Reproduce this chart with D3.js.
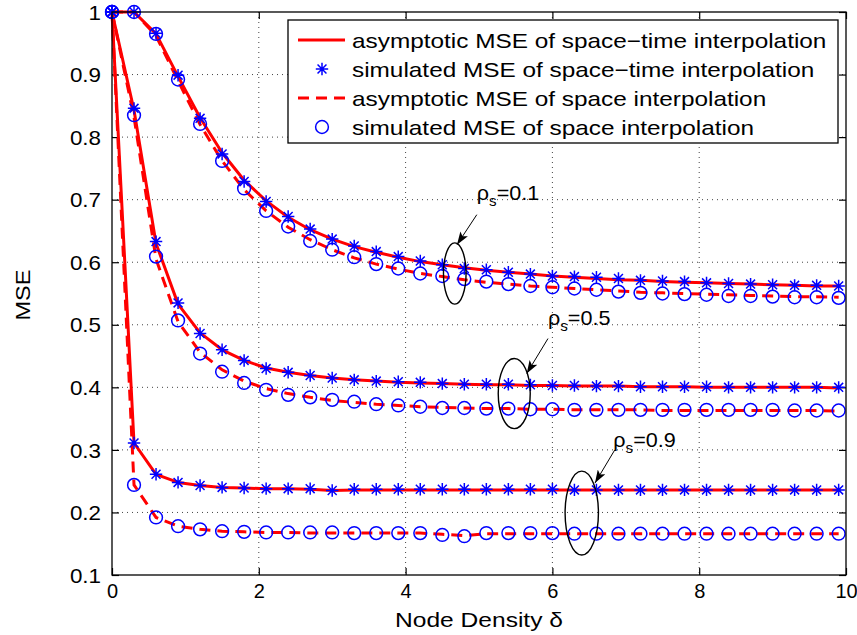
<!DOCTYPE html>
<html>
<head>
<meta charset="utf-8">
<script src="https://cdn.jsdelivr.net/npm/d3@7/dist/d3.min.js"></script>
<style>
  body { margin: 0; background: #fff; }
  text { font-family: "Liberation Sans", Arial, Helvetica, sans-serif; fill: #000; }
</style>
</head>
<body>
<svg id="chart" width="857" height="635"></svg>
<script>
// Node density grid shared by every series
const density = [0, 0.3, 0.6, 0.9, 1.2, 1.5, 1.8, 2.1, 2.4, 2.7, 3.0, 3.3, 3.6, 3.9, 4.2, 4.5, 4.8,
  5.1, 5.4, 5.7, 6.0, 6.3, 6.6, 6.9, 7.2, 7.5, 7.8, 8.1, 8.4, 8.7, 9.0, 9.3, 9.6, 9.9];

// rho_s = 0.1
const asymSpaceTime01 = [1.000, 1.000, 0.965, 0.897, 0.831, 0.775, 0.731, 0.698, 0.672, 0.652, 0.637, 0.625,
  0.616, 0.608, 0.601, 0.596, 0.591, 0.587, 0.584, 0.581, 0.578, 0.576, 0.574, 0.572, 0.571, 0.569, 0.568,
  0.567, 0.566, 0.565, 0.564, 0.563, 0.562, 0.562];
const simSpaceTime01 = [1.000, 1.000, 0.966, 0.899, 0.830, 0.773, 0.729, 0.697, 0.673, 0.653, 0.637, 0.626,
  0.617, 0.609, 0.602, 0.596, 0.590, 0.588, 0.584, 0.581, 0.578, 0.577, 0.576, 0.574, 0.571, 0.570, 0.569,
  0.567, 0.566, 0.565, 0.564, 0.563, 0.563, 0.562];
const asymSpace01 = [1.000, 1.000, 0.962, 0.890, 0.820, 0.762, 0.716, 0.682, 0.656, 0.636, 0.620, 0.607,
  0.597, 0.589, 0.582, 0.577, 0.572, 0.568, 0.565, 0.562, 0.560, 0.558, 0.556, 0.554, 0.552, 0.551, 0.550,
  0.549, 0.548, 0.547, 0.546, 0.545, 0.545, 0.544];
const simSpace01 = [1.000, 1.000, 0.965, 0.892, 0.821, 0.762, 0.718, 0.682, 0.657, 0.634, 0.620, 0.608,
  0.597, 0.590, 0.582, 0.578, 0.573, 0.569, 0.565, 0.562, 0.560, 0.558, 0.556, 0.553, 0.551, 0.550, 0.549,
  0.548, 0.546, 0.546, 0.545, 0.544, 0.544, 0.543];

// rho_s = 0.5
const asymSpaceTime05 = [1.000, 0.843, 0.630, 0.533, 0.487, 0.460, 0.443, 0.431, 0.424, 0.419, 0.415, 0.412,
  0.410, 0.408, 0.407, 0.406, 0.405, 0.404, 0.404, 0.403, 0.403, 0.402, 0.402, 0.402, 0.401, 0.401, 0.401,
  0.400, 0.400, 0.400, 0.400, 0.400, 0.400, 0.399];
const simSpaceTime05 = [1.000, 0.846, 0.633, 0.535, 0.486, 0.460, 0.443, 0.430, 0.424, 0.419, 0.415, 0.412,
  0.410, 0.409, 0.408, 0.406, 0.405, 0.405, 0.405, 0.404, 0.403, 0.403, 0.402, 0.402, 0.401, 0.401, 0.401,
  0.401, 0.400, 0.400, 0.400, 0.400, 0.400, 0.400];
const asymSpace05 = [1.000, 0.832, 0.605, 0.505, 0.456, 0.428, 0.410, 0.398, 0.390, 0.384, 0.379, 0.376,
  0.373, 0.371, 0.369, 0.368, 0.367, 0.366, 0.366, 0.365, 0.365, 0.364, 0.364, 0.364, 0.364, 0.363, 0.363,
  0.363, 0.363, 0.363, 0.363, 0.363, 0.363, 0.362];
const simSpace05 = [1.000, 0.835, 0.609, 0.507, 0.454, 0.425, 0.407, 0.396, 0.388, 0.384, 0.380, 0.377,
  0.373, 0.371, 0.369, 0.367, 0.367, 0.366, 0.366, 0.365, 0.365, 0.364, 0.364, 0.364, 0.364, 0.364, 0.364,
  0.364, 0.364, 0.364, 0.364, 0.363, 0.363, 0.363];

// rho_s = 0.9
const asymSpaceTime09 = [1.000, 0.311, 0.261, 0.248, 0.243, 0.240, 0.239, 0.238, 0.238, 0.237, 0.235, 0.236,
  0.236, 0.236, 0.236, 0.236, 0.236, 0.236, 0.236, 0.236, 0.236, 0.236, 0.236, 0.236, 0.236, 0.236, 0.236,
  0.236, 0.236, 0.236, 0.236, 0.236, 0.236, 0.236];
const simSpaceTime09 = [1.000, 0.311, 0.261, 0.248, 0.243, 0.240, 0.239, 0.238, 0.238, 0.238, 0.235, 0.237,
  0.237, 0.237, 0.237, 0.237, 0.237, 0.237, 0.237, 0.237, 0.237, 0.236, 0.236, 0.236, 0.236, 0.236, 0.236,
  0.236, 0.236, 0.236, 0.236, 0.236, 0.236, 0.236];
const asymSpace09 = [1.000, 0.244, 0.192, 0.178, 0.173, 0.170, 0.169, 0.168, 0.168, 0.167, 0.167, 0.167,
  0.167, 0.167, 0.167, 0.165, 0.163, 0.166, 0.166, 0.166, 0.166, 0.166, 0.166, 0.166, 0.166, 0.166, 0.166,
  0.166, 0.166, 0.166, 0.166, 0.166, 0.166, 0.166];
const simSpace09 = [1.000, 0.244, 0.192, 0.178, 0.173, 0.170, 0.169, 0.168, 0.168, 0.168, 0.168, 0.167,
  0.167, 0.167, 0.167, 0.164, 0.162, 0.167, 0.167, 0.167, 0.167, 0.166, 0.166, 0.166, 0.166, 0.166, 0.166,
  0.166, 0.166, 0.166, 0.166, 0.166, 0.166, 0.166];

// Axis ticks
const xTickValues = [0, 2, 4, 6, 8, 10];
const xTickLabels = ["0", "2", "4", "6", "8", "10"];
const yTickValues = [0.1, 0.2, 0.3, 0.4, 0.5, 0.6, 0.7, 0.8, 0.9, 1.0];
const yTickLabels = ["0.1", "0.2", "0.3", "0.4", "0.5", "0.6", "0.7", "0.8", "0.9", "1"];

// Legend entries
const legendLabels = [
  "asymptotic MSE of space\u2212time interpolation",
  "simulated MSE of space\u2212time interpolation",
  "asymptotic MSE of space interpolation",
  "simulated MSE of space interpolation"
];

// Correlation labels with their callout ellipse and arrow (data units)
const rhoLabels = ["0.1", "0.5", "0.9"];
const calloutText = [[4.97, 0.700], [5.94, 0.500], [6.83, 0.305]];
const calloutArrow = [[[4.97, 0.676], [4.70, 0.628]], [[5.94, 0.478], [5.65, 0.422]], [[6.85, 0.300], [6.58, 0.247]]];
const calloutEllipse = [[4.67, 0.582, 0.154, 0.049], [5.48, 0.390, 0.218, 0.056], [6.40, 0.199, 0.227, 0.067]];

const RED = "#ff0000", BLUE = "#0000ff";
const W = 857, H = 635;
const plot = { left: 112, right: 846, top: 12, bottom: 575 };

const svg = d3.select("#chart");
svg.append("rect").attr("width", W).attr("height", H).attr("fill", "#fff");

const x = d3.scaleLinear().domain([0, 10]).range([plot.left, plot.right]);
const y = d3.scaleLinear().domain([0.1, 1]).range([plot.bottom, plot.top]);

// Place a text at (px, py) with a horizontal stretch about its anchor
function placeText(sel, px, py, sx) {
  return sel.attr("x", 0).attr("y", 0).attr("transform", `translate(${px},${py}) scale(${sx},1)`);
}

const defs = svg.append("defs");
defs.append("clipPath").attr("id", "plotClip").append("rect")
  .attr("x", plot.left - 8).attr("y", plot.top - 8)
  .attr("width", plot.right - plot.left + 16).attr("height", plot.bottom - plot.top + 16);
defs.append("marker").attr("id", "arrowHead")
  .attr("viewBox", "0 0 13 9").attr("refX", 13).attr("refY", 4.5)
  .attr("markerWidth", 13).attr("markerHeight", 9).attr("markerUnits", "userSpaceOnUse")
  .attr("orient", "auto")
  .append("path").attr("d", "M0,0 L13,4.5 L0,9 L3,4.5 Z").attr("fill", "#000");

// Dotted grid
const grid = svg.append("g");
grid.selectAll(".gx").data(xTickValues.slice(1, -1)).join("line")
  .attr("x1", d => x(d)).attr("x2", d => x(d)).attr("y1", plot.top).attr("y2", plot.bottom)
  .attr("stroke", "#444").attr("stroke-width", 1).attr("stroke-dasharray", "1,4");
grid.selectAll(".gy").data(yTickValues.slice(1, -1)).join("line")
  .attr("y1", d => y(d)).attr("y2", d => y(d)).attr("x1", plot.left).attr("x2", plot.right)
  .attr("stroke", "#444").attr("stroke-width", 1).attr("stroke-dasharray", "1,4");

// Axes with inward ticks on all four sides
const tickLen = 7;
const axisBottom = d3.axisBottom(x).tickValues(xTickValues).tickFormat((d, i) => xTickLabels[i])
  .tickSizeInner(-tickLen).tickSizeOuter(0);
const axisTop = d3.axisTop(x).tickValues(xTickValues).tickFormat("").tickSizeInner(-tickLen).tickSizeOuter(0);
const axisLeft = d3.axisLeft(y).tickValues(yTickValues).tickFormat((d, i) => yTickLabels[i])
  .tickSizeInner(-tickLen).tickSizeOuter(0);
const axisRight = d3.axisRight(y).tickValues(yTickValues).tickFormat("").tickSizeInner(-tickLen).tickSizeOuter(0);

function styleAxis(g) {
  g.select(".domain").remove();
  g.selectAll(".tick line").attr("stroke", "#000").attr("stroke-width", 1.2);
  g.selectAll(".tick text").attr("font-size", 20).attr("fill", "#000")
    .style("font-family", '"Liberation Sans", Arial, sans-serif');
}
svg.append("g").attr("transform", `translate(0,${plot.bottom})`).call(axisBottom).call(styleAxis)
  .selectAll(".tick text").each(function () {
    placeText(d3.select(this), 0, 23, 1.0).attr("dy", null).attr("text-anchor", "middle");
  });
svg.append("g").attr("transform", `translate(0,${plot.top})`).call(axisTop).call(styleAxis);
svg.append("g").attr("transform", `translate(${plot.left},0)`).call(axisLeft).call(styleAxis)
  .selectAll(".tick text").each(function () {
    placeText(d3.select(this), -11, 0, 1.12).attr("dy", "0.36em").attr("text-anchor", "end");
  });
svg.append("g").attr("transform", `translate(${plot.right},0)`).call(axisRight).call(styleAxis);

// Series
const seriesGroups = [
  { solid: asymSpaceTime01, stars: simSpaceTime01, dashed: asymSpace01, circles: simSpace01 },
  { solid: asymSpaceTime05, stars: simSpaceTime05, dashed: asymSpace05, circles: simSpace05 },
  { solid: asymSpaceTime09, stars: simSpaceTime09, dashed: asymSpace09, circles: simSpace09 }
];

const line = d3.line().x((d, i) => x(density[i])).y(d => y(d));
const plotArea = svg.append("g").attr("clip-path", "url(#plotClip)");

function starPath(s) {
  const d = s * 0.72;
  return `M0,${-s}L0,${s}M${-s},0L${s},0M${-d},${-d}L${d},${d}M${-d},${d}L${d},${-d}`;
}
const STAR = 6.2, RING = 6.4;

seriesGroups.forEach(g => {
  plotArea.append("path").datum(g.solid).attr("d", line)
    .attr("fill", "none").attr("stroke", RED).attr("stroke-width", 3).attr("stroke-linejoin", "round");
  plotArea.append("path").datum(g.dashed).attr("d", line)
    .attr("fill", "none").attr("stroke", RED).attr("stroke-width", 3).attr("stroke-dasharray", "11,7");
});
seriesGroups.forEach(g => {
  plotArea.append("g").selectAll("path").data(g.stars).join("path")
    .attr("transform", (d, i) => `translate(${x(density[i])},${y(d)})`)
    .attr("d", starPath(STAR)).attr("fill", "none").attr("stroke", BLUE).attr("stroke-width", 1.5);
  plotArea.append("g").selectAll("circle").data(g.circles).join("circle")
    .attr("cx", (d, i) => x(density[i])).attr("cy", d => y(d)).attr("r", RING)
    .attr("fill", "none").attr("stroke", BLUE).attr("stroke-width", 1.5);
});

// Axes box
svg.append("rect").attr("x", plot.left).attr("y", plot.top)
  .attr("width", plot.right - plot.left).attr("height", plot.bottom - plot.top)
  .attr("fill", "none").attr("stroke", "#000").attr("stroke-width", 1.3);

// Callouts
rhoLabels.forEach((r, i) => {
  const e = calloutEllipse[i];
  svg.append("ellipse").attr("cx", x(e[0])).attr("cy", y(e[1]))
    .attr("rx", x(e[2]) - x(0)).attr("ry", y(0.1) - y(0.1 + e[3]))
    .attr("fill", "none").attr("stroke", "#000").attr("stroke-width", 1.4);
  const a = calloutArrow[i];
  svg.append("line").attr("x1", x(a[0][0])).attr("y1", y(a[0][1]))
    .attr("x2", x(a[1][0])).attr("y2", y(a[1][1]))
    .attr("stroke", "#000").attr("stroke-width", 1).attr("marker-end", "url(#arrowHead)");
  const t = calloutText[i];
  const txt = placeText(svg.append("text"), x(t[0]), y(t[1]), 1.08).attr("font-size", 20);
  txt.append("tspan").text("\u03c1");
  txt.append("tspan").attr("dy", 6).attr("font-size", 14).text("s");
  txt.append("tspan").attr("dy", -6).text("=" + r);
});

// Legend
const legend = svg.append("g").attr("transform", "translate(288,20)");
legend.append("rect").attr("width", 550).attr("height", 123)
  .attr("fill", "#fff").attr("stroke", "#000").attr("stroke-width", 1.3);
const rowY = [20, 49, 78, 107];
legendLabels.forEach((lab, i) => {
  const ry = rowY[i];
  if (i === 0 || i === 2) {
    legend.append("line").attr("x1", 10).attr("x2", 57).attr("y1", ry).attr("y2", ry)
      .attr("stroke", RED).attr("stroke-width", 3).attr("stroke-dasharray", i === 2 ? "11,7" : null);
  } else if (i === 1) {
    legend.append("path").attr("transform", `translate(34,${ry})`).attr("d", starPath(STAR))
      .attr("fill", "none").attr("stroke", BLUE).attr("stroke-width", 1.5);
  } else {
    legend.append("circle").attr("cx", 34).attr("cy", ry).attr("r", RING)
      .attr("fill", "none").attr("stroke", BLUE).attr("stroke-width", 1.5);
  }
  placeText(legend.append("text"), 64, ry, 1.16).attr("dy", "0.36em")
    .attr("font-size", 21).text(lab);
});

// Axis titles
placeText(svg.append("text"), (plot.left + plot.right) / 2, 627, 1.17)
  .attr("text-anchor", "middle").attr("font-size", 21).text("Node Density \u03b4");
svg.append("text").attr("transform", "translate(30,295) rotate(-90) scale(1.12,1)")
  .attr("text-anchor", "middle").attr("font-size", 21).text("MSE");
</script>
</body>
</html>
